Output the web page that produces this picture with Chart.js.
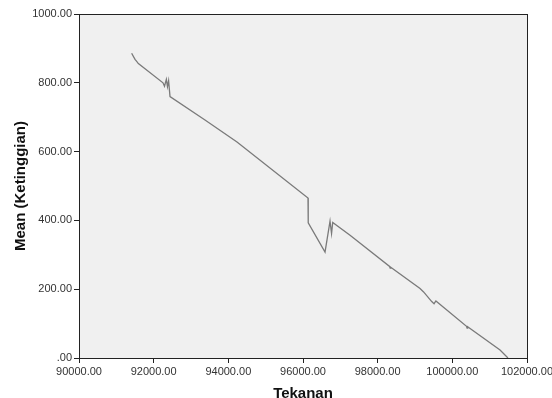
<!DOCTYPE html>
<html>
<head>
<meta charset="utf-8">
<script src="https://cdn.jsdelivr.net/npm/chart.js@4"></script>
<style>
    html, body { margin: 0; padding: 0; background: #fff; }
    #wrap { width: 552px; height: 398px; }
</style>
</head>
<body>
<div id="wrap"><canvas id="meanChart"></canvas></div>
<script>
// Tekanan (x) vs Mean (Ketinggian) (y)
const tekanan = [91410, 91500, 91540, 91590, 92250, 92290, 92340, 92370, 92400, 92438,
    93375, 94232, 96134, 96140, 96590, 96724, 96765, 96796, 97260, 98320, 98335, 98350,
    99135, 99230, 99448, 99510, 99560, 100380, 100395, 100410, 101278, 101490];
const ketinggian = [886, 868, 863, 856, 800, 790, 810, 789, 806, 760,
    692, 628, 465, 393, 308, 398, 362, 394, 357, 266, 261, 264,
    202, 192, 164, 158, 166, 92, 87, 91, 23, 0];

const xTicks = [90000, 92000, 94000, 96000, 98000, 100000, 102000];
const yTicks = [0, 200, 400, 600, 800, 1000];

const fontFamily = "Arial, 'Liberation Sans', sans-serif";

// light grey plot background and a frame round it
const plotFrame = {
    id: 'plotFrame',
    beforeDraw(chart) {
        const a = chart.chartArea;
        const ctx = chart.ctx;
        ctx.save();
        ctx.fillStyle = '#f0f0f0';
        ctx.fillRect(a.left, a.top, a.right - a.left, a.bottom - a.top);
        ctx.restore();
    },
    afterDraw(chart) {
        const a = chart.chartArea;
        const ctx = chart.ctx;
        ctx.save();
        ctx.strokeStyle = '#222';
        ctx.lineWidth = 1;
        ctx.strokeRect(a.left + 0.5, a.top + 0.5, a.right - a.left, a.bottom - a.top);
        ctx.restore();
    }
};

document.addEventListener('DOMContentLoaded', function() {
    const ctx = document.getElementById('meanChart').getContext('2d');
    const points = tekanan.map((x, i) => ({ x: x, y: ketinggian[i] }));

    new Chart(ctx, {
        type: 'scatter',
        data: {
            datasets: [{
                data: points,
                showLine: true,
                borderColor: '#7a7a7a',
                borderWidth: 1.3,
                pointRadius: 0,
                tension: 0
            }]
        },
        options: {
            responsive: true,
            maintainAspectRatio: false,
            animation: false,
            layout: { padding: { top: 14, right: 25, bottom: 0, left: 0 } },
            plugins: {
                legend: { display: false },
                tooltip: { enabled: false }
            },
            scales: {
                x: {
                    type: 'linear',
                    min: 90000,
                    max: 102000,
                    afterBuildTicks: function(scale) {
                        scale.ticks = xTicks.map(v => ({ value: v }));
                    },
                    afterFit: function(scale) {
                        scale.height = 40;
                        scale.paddingLeft = 0;
                        scale.paddingRight = 0;
                    },
                    grid: { drawOnChartArea: false, tickLength: 5, tickColor: '#222' },
                    border: { color: '#222' },
                    ticks: {
                        padding: 2,
                        maxRotation: 0,
                        autoSkip: false,
                        color: '#333',
                        font: { family: fontFamily, size: 11 },
                        callback: function(value) {
                            return value.toFixed(2);
                        }
                    },
                    title: {
                        display: true,
                        text: 'Tekanan',
                        color: '#111',
                        padding: { top: 0, bottom: -3 },
                        font: { family: fontFamily, size: 15, weight: 'bold', lineHeight: 1 }
                    }
                },
                y: {
                    type: 'linear',
                    min: 0,
                    max: 1000,
                    afterBuildTicks: function(scale) {
                        scale.ticks = yTicks.map(v => ({ value: v }));
                    },
                    afterFit: function(scale) {
                        scale.width = 79;
                        scale.paddingTop = 0;
                        scale.paddingBottom = 0;
                    },
                    grid: { drawOnChartArea: false, tickLength: 5, tickColor: '#222' },
                    border: { color: '#222' },
                    ticks: {
                        padding: 2,
                        color: '#333',
                        font: { family: fontFamily, size: 11 },
                        callback: function(value) {
                            return value === 0 ? '.00' : value.toFixed(2);
                        }
                    },
                    title: {
                        display: true,
                        text: 'Mean (Ketinggian)',
                        color: '#111',
                        padding: { top: 13.5, bottom: 0 },
                        font: { family: fontFamily, size: 15, weight: 'bold', lineHeight: 1 }
                    }
                }
            }
        },
        plugins: [plotFrame]
    });
});
</script>
</body>
</html>
